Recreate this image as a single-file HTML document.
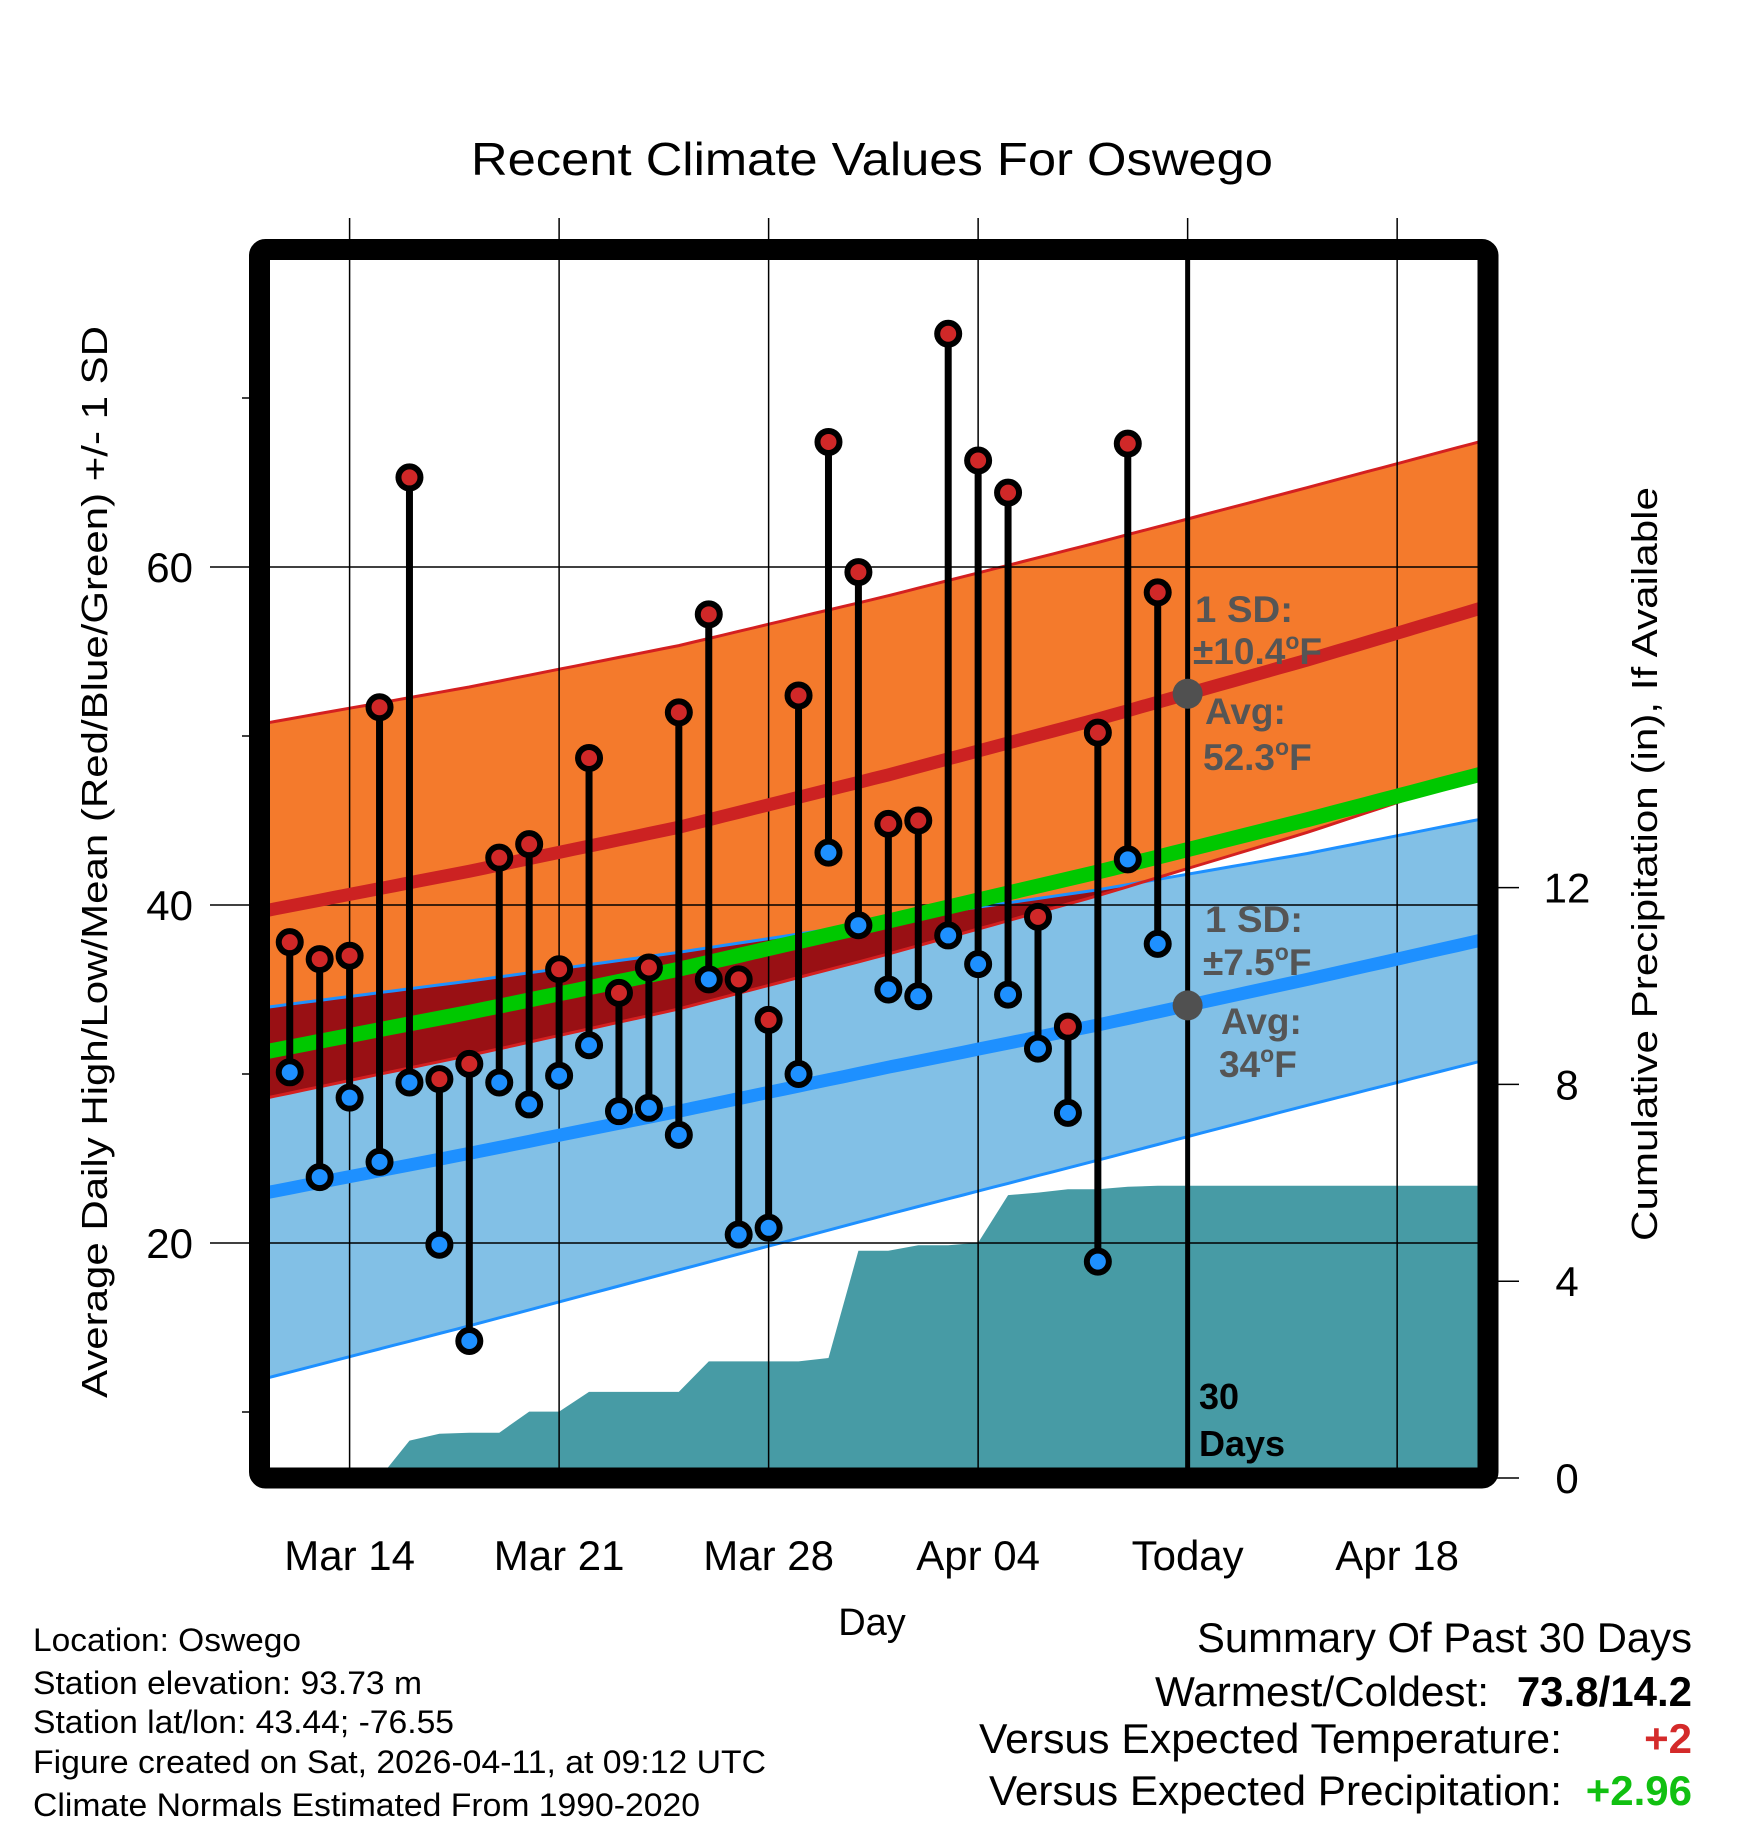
<!DOCTYPE html>
<html><head><meta charset="utf-8"><style>
html,body{margin:0;padding:0;background:#fff}
svg{display:block;font-family:"Liberation Sans",sans-serif}
</style></head><body>
<svg id="chart" width="1748" height="1828" viewBox="0 0 1748 1828" xmlns="http://www.w3.org/2000/svg">
<defs>
<clipPath id="plotClip"><rect x="270" y="260" width="1208" height="1208"/></clipPath>
<clipPath id="blueClip"><path id="blueClipPath" d=""/></clipPath>
</defs>
<rect width="1748" height="1828" fill="#fff"/>
<text x="872" y="175" font-size="46" text-anchor="middle" textLength="802" lengthAdjust="spacingAndGlyphs">Recent Climate Values For Oswego</text>
<g id="bands" clip-path="url(#plotClip)"></g>
<g id="grid"></g>
<g id="lines" clip-path="url(#plotClip)"></g>
<g id="marks"></g>
<g id="annot" fill="#555" font-weight="bold" font-size="37">
<text x="1195" y="622" textLength="98" lengthAdjust="spacingAndGlyphs">1 SD:</text>
<text x="1193" y="664">±10.4<tspan font-size="23" dy="-15">o</tspan><tspan dy="15">F</tspan></text>
<text x="1205" y="724">Avg:</text>
<text x="1203" y="770">52.3<tspan font-size="23" dy="-15">o</tspan><tspan dy="15">F</tspan></text>
<text x="1205" y="932" textLength="98" lengthAdjust="spacingAndGlyphs">1 SD:</text>
<text x="1203" y="975">±7.5<tspan font-size="23" dy="-15">o</tspan><tspan dy="15">F</tspan></text>
<text x="1221" y="1034">Avg:</text>
<text x="1219" y="1077">34<tspan font-size="23" dy="-15">o</tspan><tspan dy="15">F</tspan></text>
</g>
<text x="1199" y="1409" font-size="36" font-weight="bold">30</text>
<text x="1199" y="1456" font-size="36" font-weight="bold">Days</text>
<rect x="259.5" y="249.5" width="1228.5" height="1228.5" rx="6" fill="none" stroke="#000" stroke-width="21"/>
<g id="axes" font-size="42"></g>
<text transform="translate(107,862) rotate(-90)" font-size="36" text-anchor="middle" textLength="1072" lengthAdjust="spacingAndGlyphs">Average Daily High/Low/Mean (Red/Blue/Green) +/- 1 SD</text>
<text transform="translate(1657,864) rotate(-90)" font-size="36" text-anchor="middle" textLength="754" lengthAdjust="spacingAndGlyphs">Cumulative Precipitation (in), If Available</text>
<text x="872" y="1635" font-size="38" text-anchor="middle">Day</text>
<g font-size="32">
<text x="33" y="1651" textLength="268" lengthAdjust="spacingAndGlyphs">Location: Oswego</text>
<text x="33" y="1694" textLength="389" lengthAdjust="spacingAndGlyphs">Station elevation: 93.73 m</text>
<text x="33" y="1733" textLength="421" lengthAdjust="spacingAndGlyphs">Station lat/lon: 43.44; -76.55</text>
<text x="33" y="1773" textLength="733" lengthAdjust="spacingAndGlyphs">Figure created on Sat, 2026-04-11, at 09:12 UTC</text>
<text x="33" y="1816" textLength="667" lengthAdjust="spacingAndGlyphs">Climate Normals Estimated From 1990-2020</text>
</g>
<g font-size="42" text-anchor="end">
<text x="1692" y="1652" textLength="495" lengthAdjust="spacingAndGlyphs">Summary Of Past 30 Days</text>
<text x="1489" y="1706" textLength="334" lengthAdjust="spacingAndGlyphs">Warmest/Coldest:</text>
<text x="1692" y="1706" font-weight="bold">73.8/14.2</text>
<text x="1562" y="1753" textLength="583" lengthAdjust="spacingAndGlyphs">Versus Expected Temperature:</text>
<text x="1692" y="1753" font-weight="bold" fill="#d42a2a">+2</text>
<text x="1562" y="1805" textLength="573" lengthAdjust="spacingAndGlyphs">Versus Expected Precipitation:</text>
<text x="1692" y="1805" font-weight="bold" fill="#11c011">+2.96</text>
</g>
</svg>
<script>
// Observations, Mar 12 .. Apr 10 (day index relative to Mar 14 = 0)
const firstDay = -2;
const highs = [37.8,36.8,37.0,51.7,65.3,29.7,30.6,42.8,43.6,36.2,48.7,34.8,36.3,51.4,57.2,35.6,33.2,52.4,67.4,59.7,44.8,45.0,73.8,66.3,64.4,39.3,32.8,50.2,67.3,58.5];
const lows  = [30.1,23.9,28.6,24.8,29.5,19.9,14.2,29.5,28.2,29.9,31.7,27.8,28.0,26.4,35.6,20.5,20.9,30.0,43.1,38.8,35.0,34.6,38.2,36.5,34.7,31.5,27.7,18.9,42.7,37.7];
const precip = [0,0,0,0,0.76,0.9,0.92,0.92,1.35,1.35,1.75,1.75,1.75,1.75,2.37,2.37,2.37,2.37,2.44,4.62,4.62,4.73,4.73,4.78,5.75,5.8,5.87,5.87,5.92,5.94];
// Climate normals at weekly dates
const normDays = [-3,4,11,18,25,32,39];
const normHigh = [39.6,42.0,44.6,47.7,51.0,54.5,58.2];
const sdHigh   = [11.1,10.9,10.75,10.6,10.45,10.2,9.8];
const normLow  = [22.9,25.3,27.8,30.4,32.9,35.6,38.4];
const sdLow    = [11.0,10.2,9.4,8.7,8.0,7.45,7.1];
const xTicks = ["Mar 14","Mar 21","Mar 28","Apr 04","Today","Apr 18"];
const xTickDays = [0,7,14,21,28,35];
const yTicks = [20,40,60];
const yMinor = [10,30,50,70];
const pTicks = [0,4,8,12];
const todayDay = 28;

const NS="http://www.w3.org/2000/svg";
const xOf=d=>349.6+29.93*d;
const yT=t=>1243-(t-20)*16.9;
const yP=p=>1478-p*49.2;
function mk(parent,tag,attrs){const e=document.createElementNS(NS,tag);for(const k in attrs)e.setAttribute(k,attrs[k]);parent.appendChild(e);return e;}
function interp(arr,d){
  for(let i=0;i<normDays.length-1;i++){
    if(d<=normDays[i+1]||i===normDays.length-2){const f=(d-normDays[i])/(normDays[i+1]-normDays[i]);return arr[i]+f*(arr[i+1]-arr[i]);}
  }
}
const samples=[];for(let d=-3;d<=39;d+=0.5)samples.push(d);
const line=f=>samples.map((d,i)=>(i?'L':'M')+xOf(d).toFixed(1)+','+yT(f(d)).toFixed(1)).join(' ');
const band=(f1,f2)=>{const a=samples.map(d=>xOf(d).toFixed(1)+','+yT(f1(d)).toFixed(1));const b=samples.slice().reverse().map(d=>xOf(d).toFixed(1)+','+yT(f2(d)).toFixed(1));return 'M'+a.join(' L')+' L'+b.join(' L')+' Z';};
const hU=d=>interp(normHigh,d)+interp(sdHigh,d), hL=d=>interp(normHigh,d)-interp(sdHigh,d);
const lU=d=>interp(normLow,d)+interp(sdLow,d), lL=d=>interp(normLow,d)-interp(sdLow,d);
const mean=d=>(interp(normHigh,d)+interp(normLow,d))/2;

const bands=document.getElementById('bands');
const blueD=band(lU,lL);
document.getElementById('blueClipPath').setAttribute('d',blueD);
let e=mk(bands,'path',{d:blueD,fill:'#82c0e6'});


const orangeD=band(hU,hL);
e=mk(bands,'path',{d:orangeD,fill:'#f47a2c'});


e=mk(bands,'path',{d:orangeD,fill:'#991014','clip-path':'url(#blueClip)'});


[[lU,'#1e90ff'],[lL,'#1e90ff'],[hU,'#d42020'],[hL,'#d42020']].forEach(([f,c])=>{
  const l=mk(bands,'path',{d:line(f),fill:'none',stroke:c,'stroke-width':3});
  
  
});
// precipitation area
let pd='M270,'+yP(0)+' L'+xOf(firstDay-1)+','+yP(0);
precip.forEach((p,i)=>{pd+=' L'+xOf(firstDay+i).toFixed(1)+','+yP(p).toFixed(1);});
pd+=' L1478,'+yP(precip[precip.length-1]).toFixed(1)+' L1478,'+yP(0)+' Z';
e=mk(bands,'path',{d:pd,fill:'#479ba5'});



// grid and axes
const grid=document.getElementById('grid'), axes=document.getElementById('axes');
xTickDays.forEach((d,i)=>{
  const x=xOf(d);
  const g=mk(grid,'line',{x1:x,x2:x,y1:218,y2:1468,stroke:'#000','stroke-width':1.5});
  
  
  const t=mk(axes,'text',{x:x,y:1570,'text-anchor':'middle'});t.textContent=xTicks[i];
  
  
});
yTicks.forEach(v=>{
  const y=yT(v);
  const g=mk(grid,'line',{x1:210,x2:1478,y1:y,y2:y,stroke:'#000','stroke-width':1.5});
  
  
  const t=mk(axes,'text',{x:193,y:y+15,'text-anchor':'end'});t.textContent=v;
  
  
});
yMinor.forEach(v=>{
  const g=mk(grid,'line',{x1:242,x2:260,y1:yT(v),y2:yT(v),stroke:'#000','stroke-width':1.5});
  
  
});
pTicks.forEach(v=>{
  const y=yP(v);
  const g=mk(grid,'line',{x1:1488,x2:1519,y1:y,y2:y,stroke:'#000','stroke-width':1.5});
  
  
  const t=mk(axes,'text',{x:1567,y:y+15,'text-anchor':'middle'});t.textContent=v;
  
  
});

// mean lines
const lines=document.getElementById('lines');
[[d=>interp(normHigh,d),'#cc2222',13,'normal-high-line'],[mean,'#00c800',15,'normal-mean-line'],[d=>interp(normLow,d),'#1e90ff',13,'normal-low-line']].forEach(([f,c,w,n])=>{
  const l=mk(lines,'path',{d:line(f),fill:'none',stroke:c,'stroke-width':w});
  
  
});

// today line, observations
const marks=document.getElementById('marks');
const tx=xOf(todayDay);
e=mk(marks,'line',{x1:tx,x2:tx,y1:260,y2:1468,stroke:'#000','stroke-width':5});


highs.forEach((h,i)=>{
  const x=xOf(firstDay+i);
  const s=mk(marks,'line',{x1:x,x2:x,y1:yT(h),y2:yT(lows[i]),stroke:'#000','stroke-width':7});
  
  
});
highs.forEach((h,i)=>{
  const x=xOf(firstDay+i);
  const a=mk(marks,'circle',{cx:x,cy:yT(h),r:11,fill:'#d02828',stroke:'#000','stroke-width':6});
  
  
  const b=mk(marks,'circle',{cx:x,cy:yT(lows[i]),r:11,fill:'#1e90ff',stroke:'#000','stroke-width':6});
  
  
});
e=mk(marks,'circle',{cx:tx,cy:yT(interp(normHigh,todayDay)),r:15,fill:'#505050'});


e=mk(marks,'circle',{cx:tx,cy:yT(interp(normLow,todayDay)),r:15,fill:'#505050'});


</script>
</body></html>
